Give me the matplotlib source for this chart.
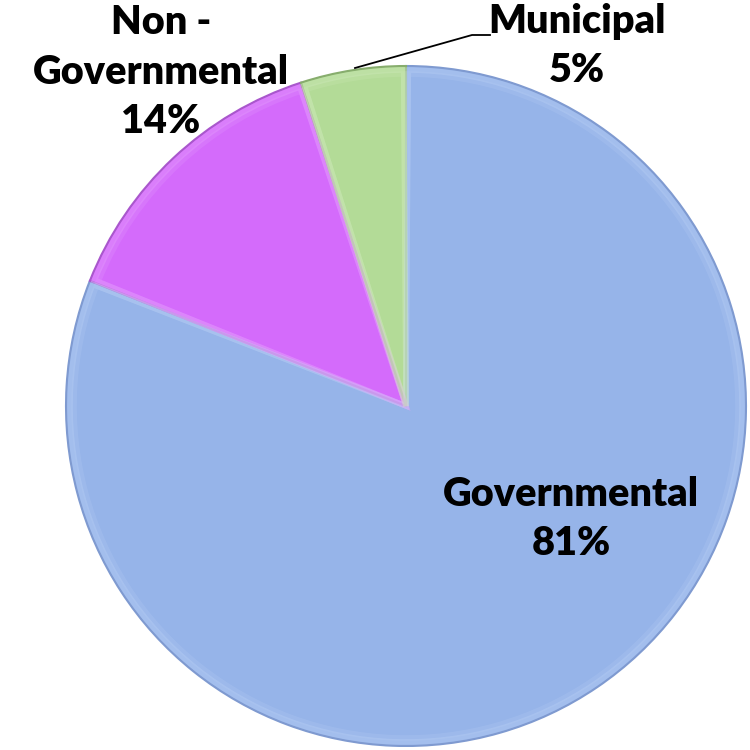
import matplotlib.pyplot as plt
from matplotlib.patches import Wedge

# funding shares by sector
sectors = ["Governmental", "Non -\nGovernmental", "Municipal"]
shares = [81, 14, 5]
colors = ["#96b4e9", "#d46bfb", "#b3db97"]
edges = ["#7f9ad0", "#a957cc", "#87ad6d"]
lights = ["#bcd2f7", "#e6a4fd", "#d2ecbf"]

fig = plt.figure(figsize=(7.5, 7.5), dpi=100)
ax = fig.add_axes([0, 0, 1, 1])

cx, cy, r = 406, 344, 340
wedges, _ = ax.pie(shares, colors=colors, startangle=90, counterclock=False,
                   center=(cx, cy), radius=r, frame=True,
                   wedgeprops=dict(linewidth=1.5))
for w, ec, lc in zip(wedges, edges, lights):
    w.set_edgecolor(ec)
    # soft bevel just inside each slice border
    for k, a in [(4, 0.35), (8, 0.2)]:
        ax.add_patch(Wedge((cx, cy), r - k, w.theta1 + 0.4, w.theta2 - 0.4,
                           facecolor="none", edgecolor=lc, lw=4, alpha=a))
ax.set_xlim(0, 750)
ax.set_ylim(0, 750)
ax.set_aspect("equal")
ax.axis("off")

font = dict(family=["Lato", "DejaVu Sans"], fontweight="heavy", fontsize=28.5,
            ha="center", va="center", linespacing=1.42, color="black")
labels = [f"{s}\n{v}%" for s, v in zip(sectors, shares)]
ax.text(571, 750 - 519, labels[0], **font)
ax.text(161, 750 - 72, labels[1], **font)
ax.text(577, 750 - 46, labels[2], **font)

# leader line for the small slice
ax.plot([355, 472, 490], [750 - 68, 750 - 35, 750 - 35], color="black", lw=1.3)

fig.savefig("out.png", dpi=100)
